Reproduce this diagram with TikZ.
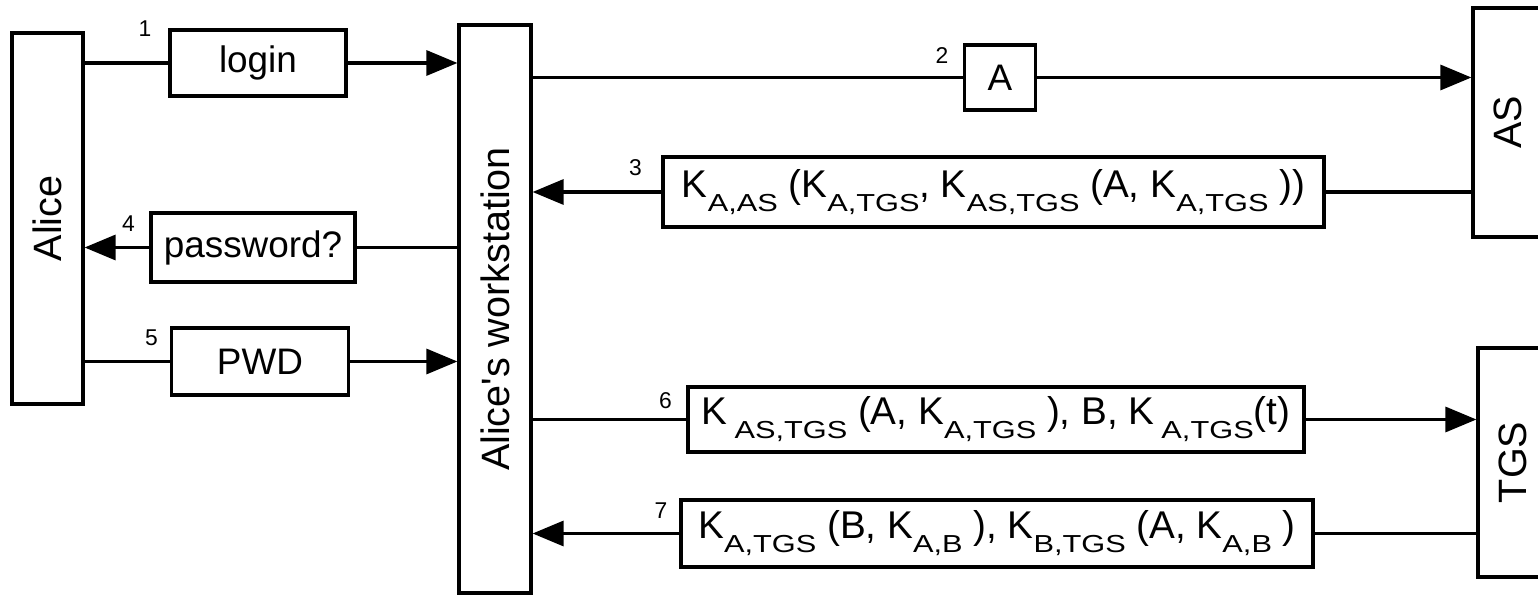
\documentclass[tikz,border=0pt]{standalone}
\usepackage{fontspec}
\setmainfont{Liberation Sans}
\usetikzlibrary{arrows.meta,positioning}
% key with a lowered, wide subscript
\newcommand{\ksub}[2][0pt]{K\hspace{#1}\raisebox{-8pt}{\scalebox{1.25}[1]{\fontsize{14}{14}\selectfont #2}}}

\begin{document}
\begin{tikzpicture}[
    party/.style={draw, line width=1.8pt, inner sep=0pt, font=\fontsize{22.5}{24}\selectfont},
    msg/.style={draw, line width=1.8pt, inner sep=2pt, font=\fontsize{21}{24}\selectfont},
    key/.style={msg, font=\fontsize{22}{24}\selectfont},
    num/.style={font=\fontsize{13}{14}\selectfont, inner sep=1pt, anchor=north east},
    wire/.style={line width=1.8pt},
    tip/.style={wire, -{Triangle[length=0.62cm, width=0.5cm]}}]
    \useasboundingbox (0,0) rectangle (30.76,11.92);

    % basics
    \node[party, minimum width=1.42cm, minimum height=7.42cm] (alice) at (0.95,7.55) {\rotatebox{90}{Alice}};
    \node[party, minimum width=1.44cm, minimum height=11.36cm] (ws) at (9.9,5.74) {\rotatebox{90}{Alice\textquotesingle s workstation}};
    \node[party, minimum width=1.4cm, minimum height=4.58cm] (as) at (30.16,9.47) {\rotatebox{90}{AS}};
    \node[party, minimum width=1.4cm, minimum height=4.58cm] (tgs) at (30.26,2.67) {\rotatebox{90}{TGS}};

    % messages
    \node[msg, minimum width=3.52cm, minimum height=1.32cm] (m1) at (5.16,10.66) {login};
    \node[msg, minimum width=1.42cm, minimum height=1.3cm] (m2) at (20.0,10.37) {A};
    \node[key, minimum width=13.22cm, minimum height=1.4cm] (m3) at (19.87,8.08)
        {\ksub{A,AS} (\ksub{A,TGS}, \ksub{AS,TGS} (A, \ksub{A,TGS} ))};
    \node[msg, minimum width=4.08cm, minimum height=1.38cm] (m4) at (5.06,6.97) {password?};
    \node[msg, minimum width=3.54cm, minimum height=1.34cm] (m5) at (5.2,4.69) {PWD};
    \node[key, minimum width=12.32cm, minimum height=1.3cm] (m6) at (19.92,3.53)
        {\ksub[4pt]{AS,TGS} (A, \ksub{A,TGS} ), B, \ksub[4pt]{A,TGS}(t)};
    \node[key, minimum width=12.64cm, minimum height=1.34cm] (m7) at (19.94,1.25)
        {\ksub{A,TGS} (B, \ksub{A,B} ), \ksub{B,TGS} (A, \ksub{A,B} )};

    % step numbers
    \node[num] (n1) at ([xshift=-0.3cm, yshift=0.2cm]m1.north west) {1};
    \node[num] (n2) at ([xshift=-0.25cm, yshift=-0.05cm]m2.north west) {2};
    \node[num] (n3) at ([xshift=-0.35cm, yshift=-0.05cm]m3.north west) {3};
    \node[num] (n4) at ([xshift=-0.25cm, yshift=-0.05cm]m4.north west) {4};
    \node[num] (n5) at ([xshift=-0.2cm, yshift=-0.02cm]m5.north west) {5};
    \node[num] (n6) at ([xshift=-0.25cm, yshift=-0.1cm]m6.north west) {6};
    \node[num] (n7) at ([xshift=-0.2cm, yshift=-0.05cm]m7.north west) {7};

    % connectors
    \draw[wire] (alice.east |- m1) -- (m1.west);
    \draw[tip] (m1.east) -- (ws.west |- m1);
    \draw[wire] (ws.east |- m2) -- (m2.west);
    \draw[tip] (m2.east) -- (as.west |- m2);
    \draw[wire] (as.west |- m3) -- (m3.east);
    \draw[tip] (m3.west) -- (ws.east |- m3);
    \draw[wire] (ws.west |- m4) -- (m4.east);
    \draw[tip] (m4.west) -- (alice.east |- m4);
    \draw[wire] (alice.east |- m5) -- (m5.west);
    \draw[tip] (m5.east) -- (ws.west |- m5);
    \draw[wire] (ws.east |- m6) -- (m6.west);
    \draw[tip] (m6.east) -- (tgs.west |- m6);
    \draw[wire] (tgs.west |- m7) -- (m7.east);
    \draw[tip] (m7.west) -- (ws.east |- m7);
\end{tikzpicture}
\end{document}
